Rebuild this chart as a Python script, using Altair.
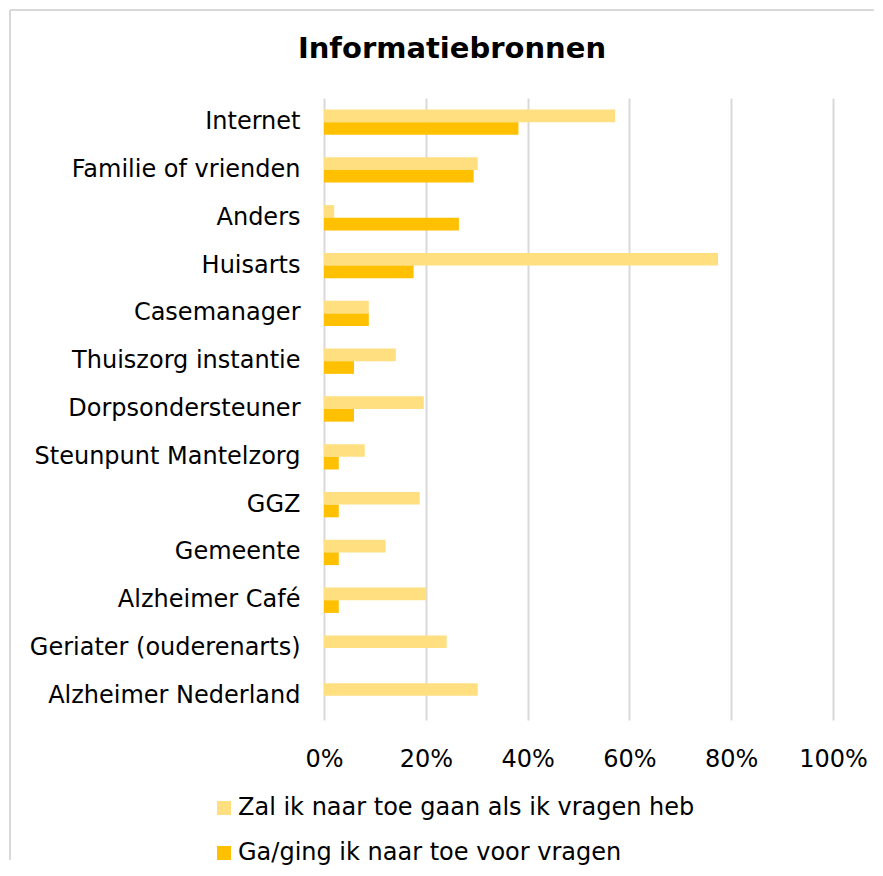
import altair as alt
import pandas as pd

categories = ["Internet", "Familie of vrienden", "Anders", "Huisarts", "Casemanager",
              "Thuiszorg instantie", "Dorpsondersteuner", "Steunpunt Mantelzorg", "GGZ",
              "Gemeente", "Alzheimer Café", "Geriater (ouderenarts)", "Alzheimer Nederland"]
zal = [0.572, 0.302, 0.020, 0.774, 0.088, 0.141, 0.196, 0.080, 0.188, 0.121, 0.201, 0.241, 0.302]
ging = [0.382, 0.294, 0.265, 0.176, 0.088, 0.059, 0.059, 0.029, 0.029, 0.029, 0.029, 0.0, 0.0]
series = ["Zal ik naar toe gaan als ik vragen heb", "Ga/ging ik naar toe voor vragen"]
colors = ["#FFDF80", "#FFC000"]
x_ticks = [0, 0.2, 0.4, 0.6, 0.8, 1.0]
title_text = "Informatiebronnen"

FONT = "DejaVu Sans"

rows = []
for c, a, b in zip(categories, zal, ging):
    rows.append({"category": c, "series": series[0], "value": a})
    rows.append({"category": c, "series": series[1], "value": b})
df = pd.DataFrame(rows)

bars = alt.Chart(df).mark_bar().encode(
    y=alt.Y("category:N", sort=categories, title=None,
            scale=alt.Scale(paddingInner=0.47, paddingOuter=0.24),
            axis=alt.Axis(labelFontSize=24, labelFont=FONT, labelColor="#000000",
                          labelPadding=24, ticks=False, domain=False, grid=False,
                          labelLimit=400)),
    x=alt.X("value:Q", title=None, scale=alt.Scale(domain=[0, 1]),
            axis=alt.Axis(values=x_ticks, format=".0%", grid=True, gridColor="#D9D9D9",
                          gridWidth=2, ticks=False, domain=False, labelFontSize=24,
                          labelFont=FONT, labelColor="#000000", labelPadding=27,
                          labelFlush=False)),
    yOffset=alt.YOffset("series:N", sort=series),
    color=alt.Color("series:N", sort=series,
                    scale=alt.Scale(domain=series, range=colors),
                    legend=alt.Legend(orient="none", legendX=-112, legendY=698,
                                      direction="vertical", title=None,
                                      symbolType="square", symbolSize=196,
                                      symbolStrokeWidth=0, labelFontSize=24,
                                      labelFont=FONT, labelColor="#000000",
                                      labelOffset=2, rowPadding=21, labelLimit=700,
                                      padding=0)),
)

title_layer = alt.Chart(pd.DataFrame({"t": [title_text]})).mark_text(
    font=FONT, fontSize=29, fontWeight="bold", align="center",
    baseline="alphabetic", color="#000000"
).encode(text="t:N", x=alt.value(128), y=alt.value(-40))

border_df = pd.DataFrame({"k": [0]})
top_border = alt.Chart(border_df).mark_rule(color="#D9D9D9", strokeWidth=2).encode(
    x=alt.value(-314), x2=alt.value(550), y=alt.value(-88))
left_border = alt.Chart(border_df).mark_rule(color="#D9D9D9", strokeWidth=2).encode(
    x=alt.value(-314), y=alt.value(-88), y2=alt.value(762))

chart = alt.layer(top_border, left_border, bars, title_layer).properties(
    width=509, height=622,
    padding={"left": 1, "top": 1, "right": 0, "bottom": 0},
    background="white",
).configure_view(stroke=None)

chart.save("out.html", embed_options={"renderer": "svg", "actions": False})
